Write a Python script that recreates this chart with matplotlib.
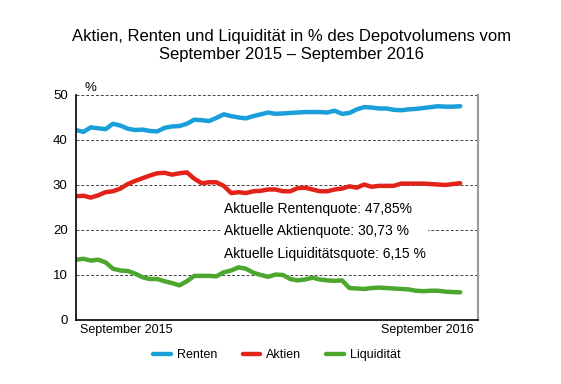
import matplotlib.pyplot as plt
import numpy as np

plt.rcParams['font.family'] = ['Liberation Sans', 'DejaVu Sans']

# wöchentliche Werte, September 2015 - September 2016
renten = [42.2, 41.8, 42.8, 42.6, 42.4, 43.6, 43.2, 42.5, 42.2, 42.3,
          42.0, 41.9, 42.7, 43.0, 43.1, 43.6, 44.5, 44.4, 44.2, 44.9,
          45.7, 45.3, 45.0, 44.8, 45.3, 45.7, 46.1, 45.8, 45.9, 46.0,
          46.1, 46.2, 46.2, 46.2, 46.1, 46.5, 45.8, 46.0, 46.8, 47.3,
          47.2, 47.0, 47.0, 46.7, 46.6, 46.8, 46.9, 47.1, 47.3, 47.5,
          47.4, 47.4, 47.5]
aktien = [27.5, 27.6, 27.2, 27.7, 28.4, 28.6, 29.2, 30.2, 30.9, 31.5,
          32.1, 32.6, 32.7, 32.3, 32.6, 32.8, 31.4, 30.4, 30.6, 30.6,
          29.8, 28.2, 28.4, 28.2, 28.6, 28.7, 29.0, 29.0, 28.6, 28.6,
          29.3, 29.4, 29.0, 28.6, 28.6, 29.0, 29.2, 29.7, 29.4, 30.1,
          29.6, 29.8, 29.8, 29.8, 30.3, 30.3, 30.3, 30.3, 30.2, 30.1,
          30.0, 30.2, 30.4]
liquiditaet = [13.4, 13.6, 13.2, 13.4, 12.8, 11.4, 11.0, 10.9, 10.3, 9.5,
               9.1, 9.1, 8.6, 8.2, 7.7, 8.6, 9.8, 9.8, 9.8, 9.7,
               10.6, 11.0, 11.7, 11.4, 10.5, 10.0, 9.6, 10.1, 10.0, 9.1,
               8.8, 9.0, 9.4, 9.0, 8.8, 8.7, 8.8, 7.1, 7.0, 6.9,
               7.1, 7.2, 7.1, 7.0, 6.9, 6.8, 6.5, 6.4, 6.5, 6.5,
               6.3, 6.2, 6.15]

y_ticks = [0, 10, 20, 30, 40, 50]
x_labels = ['September 2015', 'September 2016']
info = ['Aktuelle Rentenquote: 47,85%',
        'Aktuelle Aktienquote: 30,73 %',
        'Aktuelle Liquiditätsquote: 6,15 %']

fig = plt.figure(figsize=(5.61, 3.84), dpi=100)
ax = fig.add_axes([0.1355, 0.1667, 0.7165, 0.586])

x = np.arange(len(renten))
ax.plot(x, renten, color='#1B9FDB', lw=3.2, label='Renten', solid_capstyle='round')
ax.plot(x, aktien, color='#E2231A', lw=3.2, label='Aktien', solid_capstyle='round')
ax.plot(x, liquiditaet, color='#4DA72E', lw=3.2, label='Liquidität', solid_capstyle='round')

ax.set_xlim(0, 54.4)
ax.set_ylim(0, 50)
ax.set_yticks(y_ticks)
ax.set_xticks([])
ax.tick_params(axis='y', length=0, labelsize=9.5, pad=6)
for v in y_ticks[1:]:
    ax.axhline(v, color='#444444', lw=0.7, ls=(0, (3, 2)), zorder=0)

ax.spines['top'].set_visible(False)
ax.spines['right'].set_color('#999999')
ax.spines['right'].set_linewidth(1.5)
ax.spines['left'].set_linewidth(1.2)
ax.spines['bottom'].set_linewidth(1.2)

ax.text(0.01, -0.02, x_labels[0], transform=ax.transAxes, ha='left', va='top', fontsize=9)
ax.text(0.99, -0.02, x_labels[1], transform=ax.transAxes, ha='right', va='top', fontsize=9)
ax.text(0.035, 1.005, '%', transform=ax.transAxes, ha='center', va='bottom', fontsize=9.5)

ax.text(20.0, 26.2, '\n'.join(info), fontsize=10, va='top', ha='left', linespacing=1.75,
        bbox=dict(facecolor='white', edgecolor='none', pad=2), zorder=5)

fig.suptitle('Aktien, Renten und Liquidität in % des Depotvolumens vom\nSeptember 2015 – September 2016',
             x=0.52, y=0.925, fontsize=12, linespacing=1.25)

fig.legend(loc='lower center', bbox_to_anchor=(0.494, 0.03), ncol=3, frameon=False,
           fontsize=9, handlelength=1.4, columnspacing=2.0, handletextpad=0.5)

fig.savefig('out.png', dpi=100)
